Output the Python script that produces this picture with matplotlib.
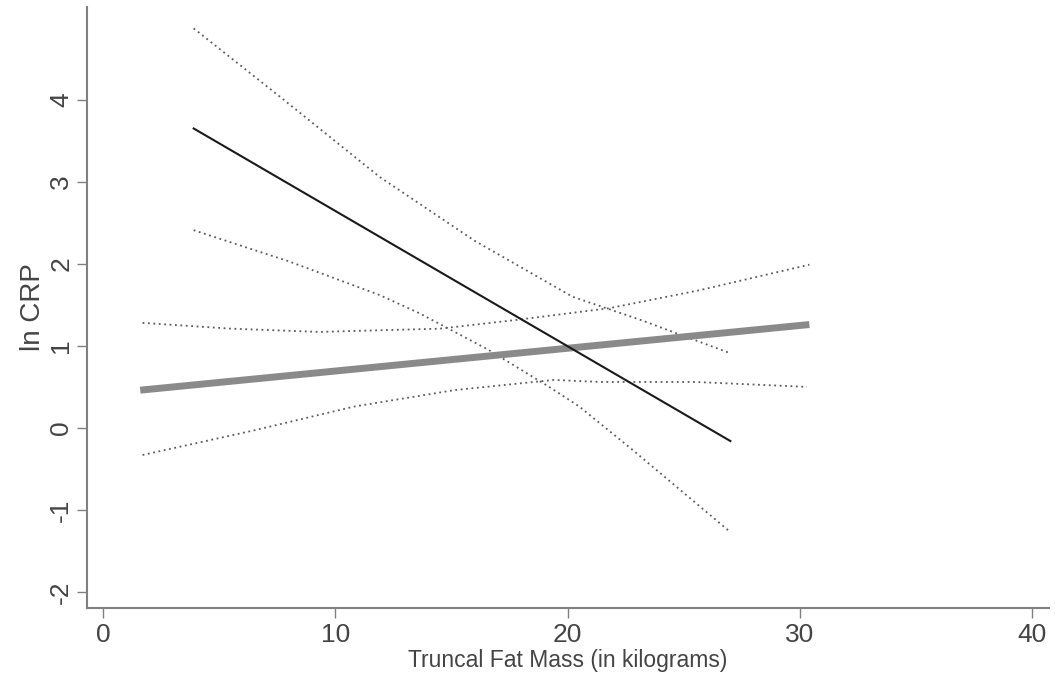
import matplotlib
matplotlib.use("Agg")
import matplotlib.pyplot as plt

plt.rcParams['font.family'] = ['Liberation Sans', 'DejaVu Sans']

# fitted line with steep negative slope and its confidence band
fit_a_x = [3.9, 27.0]
fit_a_y = [3.65, -0.16]
upper_a_x = [3.9, 7.6, 11.9, 16.0, 20.2, 23.1, 27.0]
upper_a_y = [4.87, 4.04, 3.06, 2.28, 1.60, 1.32, 0.91]
lower_a_x = [3.9, 8.0, 11.9, 13.6, 16.6, 19.2, 20.5, 22.8, 27.0]
lower_a_y = [2.41, 2.03, 1.62, 1.40, 0.95, 0.50, 0.26, -0.27, -1.27]

# thick gray fitted line and its confidence band
fit_b_x = [1.6, 30.4]
fit_b_y = [0.46, 1.26]
upper_b_x = [1.7, 5.5, 9.3, 14.5, 17.9, 21.8, 25.7, 30.4]
upper_b_y = [1.28, 1.21, 1.17, 1.21, 1.32, 1.46, 1.68, 1.99]
lower_b_x = [1.7, 6.5, 10.8, 15.1, 19.4, 21.4, 25.5, 30.3]
lower_b_y = [-0.33, -0.03, 0.26, 0.46, 0.585, 0.56, 0.56, 0.50]

xticks = [0, 10, 20, 30, 40]
yticks = [-2, -1, 0, 1, 2, 3, 4]

fig = plt.figure(figsize=(10.55, 6.79), dpi=100)
ax = fig.add_axes([0.0825, 0.1046, 0.9115, 0.885])

dot = dict(color='#5a5a5a', lw=1.3, linestyle=(0, (1, 2)))
ax.plot(upper_a_x, upper_a_y, **dot)
ax.plot(lower_a_x, lower_a_y, **dot)
ax.plot(upper_b_x, upper_b_y, **dot)
ax.plot(lower_b_x, lower_b_y, **dot)

ax.plot(fit_b_x, fit_b_y, color='#8a8a8a', lw=5, solid_capstyle='butt')
ax.plot(fit_a_x, fit_a_y, color='#1a1a1a', lw=1.5)

ax.set_xlim(-0.69, 40.7)
ax.set_ylim(-2.195, 5.13)
ax.set_xticks(xticks)
ax.set_yticks(yticks)
ax.set_xticklabels([str(t) for t in xticks], fontsize=19, color='#444444')
ax.set_yticklabels([str(t) for t in yticks], fontsize=19, color='#444444',
                   rotation=90, va='center')

for s in ['top', 'right']:
    ax.spines[s].set_visible(False)
for s in ['left', 'bottom']:
    ax.spines[s].set_color('#808080')
    ax.spines[s].set_linewidth(1.5)
ax.tick_params(axis='both', direction='out', length=7, width=1, color='#808080')
ax.tick_params(axis='x', pad=4)
ax.tick_params(axis='y', pad=3)

ax.set_xlabel('Truncal Fat Mass (in kilograms)', fontsize=16.5, color='#444444', labelpad=1)
ax.set_ylabel('ln CRP', fontsize=20, color='#444444', labelpad=2)

fig.savefig('out.png', dpi=100)
